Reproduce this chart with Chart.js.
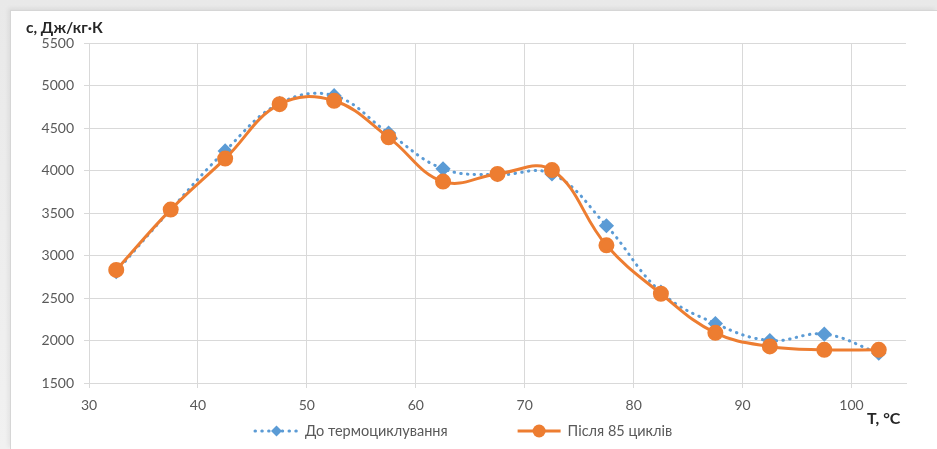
<!DOCTYPE html>
<html>
<head>
<meta charset="utf-8">
<script src="https://cdn.jsdelivr.net/npm/chart.js@4"></script>
<style>
  html, body { margin: 0; padding: 0; }
  body { width: 937px; height: 449px; overflow: hidden; position: relative;
         background: linear-gradient(#e9e9e9, #f1f1f1); }
  .frame { position: absolute; left: 10px; top: 10px; right: 0; bottom: 0;
           background: #ffffff; border-top: 1px solid #d6d6d6; border-left: 1px solid #d6d6d6;
           box-shadow: -2px -2px 4px rgba(0,0,0,0.06); }
  canvas { position: absolute; left: 0; top: 0; }
</style>
</head>
<body>
<div class="frame"></div>
<canvas id="c" width="937" height="449"></canvas>
<script>
// Temperature points, °C
const temps = [32.5, 37.5, 42.5, 47.5, 52.5, 57.5, 62.5, 67.5, 72.5, 77.5, 82.5, 87.5, 92.5, 97.5, 102.5];
// Specific heat capacity, J/(kg·K)
const beforeCycling = [2810, 3540, 4230, 4790, 4880, 4440, 4020, 3950, 3960, 3350, 2570, 2200, 2000, 2075, 1850];
const after85Cycles = [2830, 3540, 4140, 4780, 4820, 4390, 3870, 3960, 4005, 3120, 2550, 2090, 1930, 1890, 1890];
const xTicks = [30, 40, 50, 60, 70, 80, 90, 100];
const yTicks = [1500, 2000, 2500, 3000, 3500, 4000, 4500, 5000, 5500];
const seriesNames = ['До термоциклування', 'Після 85 циклів'];
const yTitle = 'c, Дж/кг·К';
const xTitle = 'T, °C';

const BLUE = '#5B9BD5';
const ORANGE = '#ED7D31';
const GRID = '#d9d9d9';
const TEXT = '#595959';
const FONT = 'Lato, "Open Sans", sans-serif';

const toPoints = ys => temps.map((t, i) => ({ x: t, y: ys[i] }));

// Axis titles drawn at the top-left and bottom-right corners
const axisTitles = {
  id: 'axisTitles',
  afterDraw(chart) {
    const ctx = chart.ctx;
    ctx.save();
    ctx.fillStyle = '#262626';
    ctx.font = 'bold 15.5px ' + FONT;
    ctx.textBaseline = 'alphabetic';
    ctx.textAlign = 'left';
    ctx.fillText(yTitle, 26, 33);
    ctx.font = 'bold 16px ' + FONT;
    ctx.textBaseline = 'middle';
    ctx.fillText(xTitle, 867, 419);
    ctx.restore();
  }
};

// Legend with line + marker samples
const lineLegend = {
  id: 'lineLegend',
  afterDraw(chart) {
    const ctx = chart.ctx;
    const y = 431;
    let x = 255;
    ctx.save();
    ctx.font = '14.5px ' + FONT;
    ctx.textBaseline = 'middle';
    chart.data.datasets.forEach(ds => {
      const segW = 43;
      const cx = x + segW / 2;
      ctx.beginPath();
      ctx.strokeStyle = ds.borderColor;
      ctx.lineWidth = ds.borderWidth;
      ctx.lineCap = ds.borderCapStyle || 'butt';
      ctx.setLineDash(ds.borderDash || []);
      ctx.moveTo(x, y);
      ctx.lineTo(x + segW, y);
      ctx.stroke();
      ctx.setLineDash([]);
      ctx.fillStyle = ds.pointBackgroundColor;
      ctx.beginPath();
      const r = ds.pointRadius;
      if (ds.pointStyle === 'circle') {
        ctx.arc(cx, y, r, 0, Math.PI * 2);
      } else {
        ctx.moveTo(cx, y - r);
        ctx.lineTo(cx + r, y);
        ctx.lineTo(cx, y + r);
        ctx.lineTo(cx - r, y);
        ctx.closePath();
      }
      ctx.fill();
      ctx.fillStyle = TEXT;
      ctx.textAlign = 'left';
      const tx = x + segW + 7;
      ctx.fillText(ds.label, tx, y);
      x = tx + ctx.measureText(ds.label).width + 70;
    });
    ctx.restore();
  }
};

new Chart(document.getElementById('c'), {
  type: 'line',
  data: {
    datasets: [
      {
        label: seriesNames[0],
        data: toPoints(beforeCycling),
        borderColor: BLUE,
        backgroundColor: BLUE,
        pointBackgroundColor: BLUE,
        pointBorderColor: BLUE,
        borderWidth: 3,
        borderDash: [0.5, 6.3],
        borderCapStyle: 'round',
        pointStyle: 'rectRot',
        pointRadius: 5.5,
        tension: 0.4,
        order: 2
      },
      {
        label: seriesNames[1],
        data: toPoints(after85Cycles),
        borderColor: ORANGE,
        backgroundColor: ORANGE,
        pointBackgroundColor: ORANGE,
        pointBorderColor: ORANGE,
        borderWidth: 3,
        pointStyle: 'circle',
        pointRadius: 6.5,
        tension: 0.4,
        order: 1
      }
    ]
  },
  options: {
    responsive: false,
    animation: false,
    devicePixelRatio: 1,
    layout: { padding: { top: 43, right: 31, left: 0, bottom: 0 } },
    plugins: { legend: { display: false }, tooltip: { enabled: false } },
    scales: {
      x: {
        type: 'linear',
        min: 30,
        max: 105,
        afterBuildTicks(scale) { scale.ticks = xTicks.map(v => ({ value: v })); },
        afterFit(scale) { scale.height = 66; },
        grid: { color: GRID, lineWidth: 1, tickLength: 5, tickColor: GRID },
        border: { color: GRID, width: 1 },
        ticks: { color: TEXT, font: { family: FONT, size: 14 }, padding: 9, maxRotation: 0,
                 callback: v => String(v) }
      },
      y: {
        type: 'linear',
        min: 1500,
        max: 5500,
        afterBuildTicks(scale) { scale.ticks = yTicks.map(v => ({ value: v })); },
        afterFit(scale) { scale.width = 89; },
        grid: { color: GRID, lineWidth: 1, tickLength: 5, tickColor: GRID },
        border: { color: GRID, width: 1 },
        ticks: { color: TEXT, font: { family: FONT, size: 14 }, padding: 10,
                 callback: v => String(v) }
      }
    }
  },
  plugins: [axisTitles, lineLegend]
});
</script>
</body>
</html>
